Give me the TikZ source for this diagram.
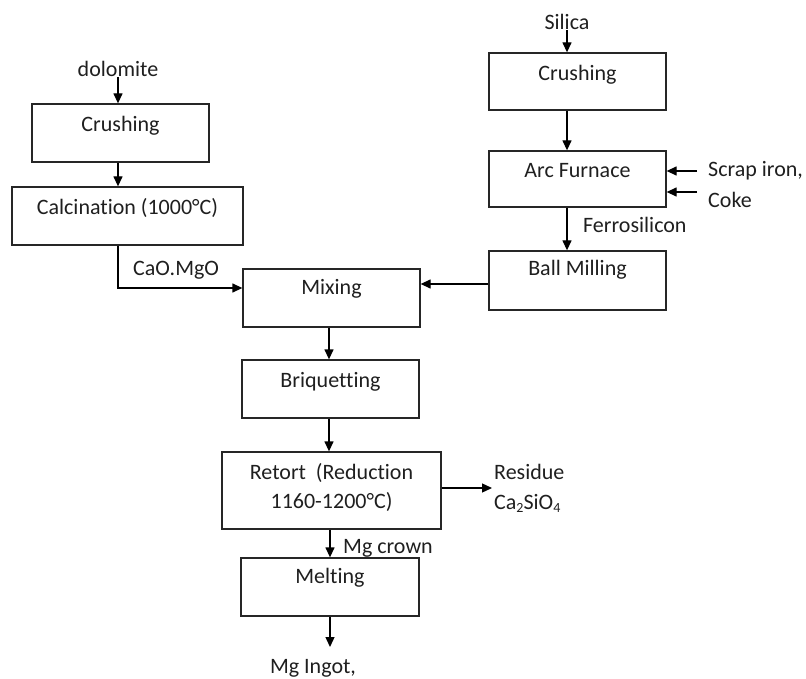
\documentclass[tikz,border=0pt]{standalone}
\usepackage{fontspec}
\setmainfont[Ligatures=CommonOff]{Carlito}
\usetikzlibrary{arrows.meta,calc}
\begin{document}
\begin{tikzpicture}[x=1pt,y=-1pt,
  every node/.style={font=\fontsize{22}{27}\selectfont, text=black!88},
  box/.style={draw=black!85, line width=1.3pt, rectangle, inner sep=0pt},
  txt/.style={inner sep=0pt},
  arr/.style={draw=black, line width=1.3pt, -{Triangle[length=10pt,width=9pt]}},
  ln/.style={draw=black, line width=1.3pt}
]
\useasboundingbox (0,0) rectangle (806,679);
% boxes
\node[box, minimum width=177pt, minimum height=58pt] (crush1) at (120.5,133) {};
\node[txt] (crush1t) at (120.5,126) {Crushing};
\node[box, minimum width=231pt, minimum height=58pt] (calc) at (127.5,216) {};
\node[txt] (calct) at (127.5,208) {Calcination (1000°C)};
\node[box, minimum width=177pt, minimum height=57pt] (crush2) at (577.5,81.5) {};
\node[txt] (crush2t) at (577.5,75) {Crushing};
\node[box, minimum width=177pt, minimum height=56pt] (arc) at (577.5,179) {};
\node[txt] (arct) at (577.5,171) {Arc Furnace};
\node[box, minimum width=177pt, minimum height=59pt] (ball) at (577.5,280.5) {};
\node[txt] (ballt) at (577.5,270) {Ball Milling};
\node[box, minimum width=177pt, minimum height=58pt] (mix) at (331.5,298) {};
\node[txt] (mixt) at (331.5,289) {Mixing};
\node[box, minimum width=177pt, minimum height=58pt] (briq) at (330.5,389) {};
\node[txt] (briqt) at (330.5,382) {Briquetting};
\node[box, minimum width=219pt, minimum height=77pt] (ret) at (331.5,490.5) {};
\node[txt] (ret1) at (331.5,473) {Retort\ \ (Reduction};
\node[txt] (ret2) at (331.5,502) {1160-1200°C)};
\node[box, minimum width=178pt, minimum height=58pt] (melt) at (330,587) {};
\node[txt] (meltt) at (330,578) {Melting};
% free labels
\node[txt] (dolo) at (118,69) {dolomite};
\node[txt] (silica) at (567,22) {Silica};
\node[txt, anchor=west] (scrap) at (708,171) {Scrap iron,};
\node[txt, anchor=west] (coke) at (708,200) {Coke};
\node[txt, anchor=west] (ferro) at (583,225) {Ferrosilicon};
\node[txt, anchor=west] (cao) at (133,270) {CaO.MgO};
\node[txt, anchor=west] (resid) at (494,472) {Residue};
\node[txt, anchor=west] (ca2) at (494,503) {Ca{\fontsize{14}{14}\selectfont\raisebox{-3pt}{2}}SiO{\fontsize{14}{14}\selectfont\raisebox{-3pt}{4}}};
\node[txt, anchor=west] (mgc) at (343,548) {Mg crown};
\node[txt] (ingot) at (313,668) {Mg Ingot,};
% coordinates
\coordinate (lc) at (118,0);
\coordinate (rc) at (567,0);
\coordinate (cc) at (329,0);
\coordinate (s1) at (697,171);
\coordinate (s2) at (697,192);
\coordinate (re) at (492,488);
\coordinate (ie) at (330,647);
% connectors
\draw[arr] (lc |- dolo.south) -- (lc |- crush1.north);
\draw[arr] (lc |- crush1.south) -- (lc |- calc.north);
\draw[arr] (lc |- calc.south) |- ([yshift=10pt]mix.west);
\draw[arr] (rc |- silica.south) -- (rc |- crush2.north);
\draw[arr] (rc |- crush2.south) -- (rc |- arc.north);
\draw[arr] (rc |- arc.south) -- (rc |- ball.north);
\draw[arr] (s1) -- (s1 -| arc.east);
\draw[arr] (s2) -- (s2 -| arc.east);
\draw[arr] ([yshift=-3.5pt]ball.west) -- ([yshift=-3.5pt]ball.west -| mix.east);
\draw[arr] (cc |- mix.south) -- (cc |- briq.north);
\draw[arr] (cc |- briq.south) -- (cc |- ret.north);
\draw[arr] (re -| ret.east) -- (re);
\draw[arr] (ie |- ret.south) -- (ie |- melt.north);
\draw[arr] (ie |- melt.south) -- (ie);
\end{tikzpicture}
\end{document}
